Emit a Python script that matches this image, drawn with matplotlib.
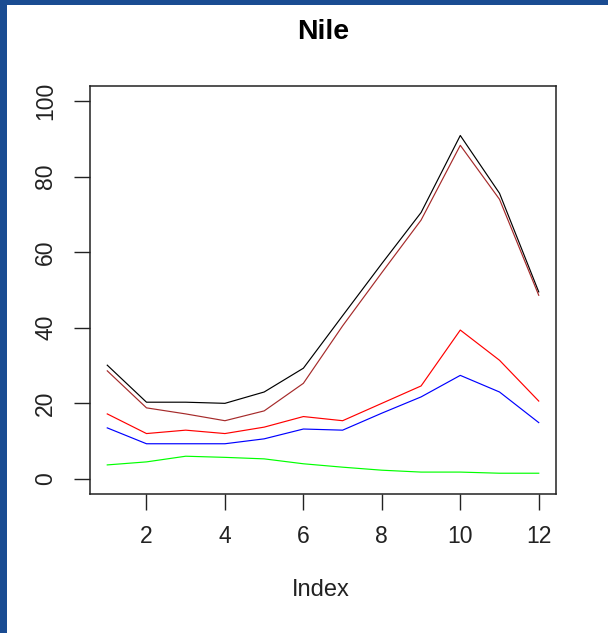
import matplotlib.pyplot as plt
from matplotlib.patches import Rectangle

# values
index = [1, 2, 3, 4, 5, 6, 7, 8, 9, 10, 11, 12]
black_vals = [30.1, 20.3, 20.3, 20.0, 23.0, 29.3, 43.2, 57.0, 70.5, 90.9, 75.6, 49.5]
brown_vals = [28.6, 18.8, 17.2, 15.4, 18.0, 25.3, 40.5, 54.6, 68.5, 88.3, 74.0, 48.6]
red_vals = [17.2, 12.0, 12.9, 12.0, 13.7, 16.5, 15.4, 20.0, 24.6, 39.4, 31.4, 20.6]
blue_vals = [13.5, 9.3, 9.3, 9.3, 10.6, 13.2, 12.9, 17.4, 21.7, 27.4, 23.0, 14.9]
green_vals = [3.7, 4.5, 6.0, 5.7, 5.3, 4.0, 3.1, 2.3, 1.8, 1.8, 1.5, 1.5]

series = [
    (black_vals, 'black'),
    (brown_vals, '#A52A2A'),
    (red_vals, '#FF0000'),
    (blue_vals, '#0000FF'),
    (green_vals, '#00FF00'),
]

plt.rcParams['font.family'] = ['Liberation Sans', 'DejaVu Sans']

W, H = 608, 633
fig = plt.figure(figsize=(W / 100, H / 100), dpi=100)
fig.patch.set_facecolor('#1a4c92')
# white slide area, kept behind the axes
fig.patches.append(Rectangle((7 / W, 0), 1, (H - 5) / H, transform=fig.transFigure,
                             facecolor='white', edgecolor='none', zorder=-10))

ax = fig.add_axes([90 / W, 1 - 494 / H, 466 / W, 408 / H])
ax.set_facecolor('white')

for vals, col in series:
    ax.plot(index, vals, color=col, lw=0.85)

ax.set_xlim(0.56, 12.44)
ax.set_ylim(-4, 104)
ax.set_xticks([2, 4, 6, 8, 10, 12])
ax.set_yticks([0, 20, 40, 60, 80, 100])

ax.tick_params(axis='both', length=11.5, width=1.0, color='#222222',
               labelsize=16.5, labelcolor='#222222')
ax.tick_params(axis='x', pad=11)
ax.tick_params(axis='y', pad=12)
for lab in ax.get_yticklabels():
    lab.set_rotation(90)
    lab.set_va('center')

for sp in ax.spines.values():
    sp.set_linewidth(1.1)
    sp.set_color('#222222')

fig.text(323 / W, 1 - 32 / H, 'Nile', ha='center', va='center',
         fontsize=20.5, fontweight='bold', color='black')
fig.text(321 / W, 1 - 590 / H, 'Index', ha='center', va='center',
         fontsize=17, color='#222222')

fig.savefig('out.png', dpi=100, facecolor=fig.get_facecolor())
